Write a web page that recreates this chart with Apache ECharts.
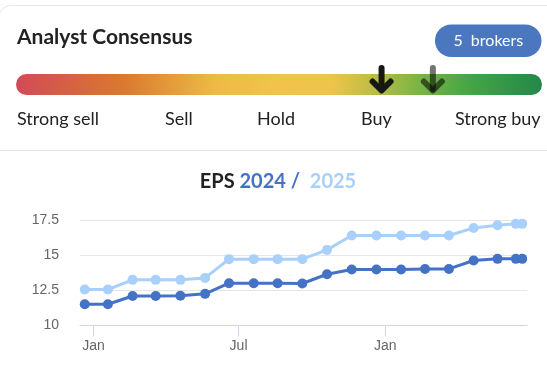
<!DOCTYPE html>
<html>
<head>
<meta charset="utf-8">
<script src="https://cdn.jsdelivr.net/npm/echarts@6/dist/echarts.min.js"></script>
<style>
html,body{margin:0;padding:0;background:#fff;}
#c{width:547px;height:369px;}
</style>
</head>
<body>
<div id="c"></div>
<script>
// ---- data ----
const dates = ['2023-12-21','2024-01-19','2024-02-19','2024-03-19','2024-04-19','2024-05-20','2024-06-19','2024-07-20','2024-08-19','2024-09-19','2024-10-20','2024-11-20','2024-12-21','2025-01-21','2025-02-20','2025-03-22','2025-04-22','2025-05-22','2025-06-14','2025-06-22'];
const eps2024 = [11.52,11.52,12.11,12.11,12.12,12.26,13.02,13.02,13.02,13.0,13.66,14.0,14.0,14.0,14.04,14.04,14.64,14.76,14.76,14.76];
const eps2025 = [12.57,12.57,13.26,13.26,13.26,13.4,14.74,14.74,14.74,14.74,15.4,16.43,16.43,16.43,16.43,16.43,16.97,17.16,17.26,17.26];
const tickDates = ['2024-01-01','2024-07-01','2025-01-01'];
const tickLabels = ['Jan','Jul','Jan'];
const ratingLabels = ['Strong sell','Sell','Hold','Buy','Strong buy'];
const consensusValues = [3.78, 4.17]; // on a 1..5 scale: current, previous
const brokerCount = 5;

// ---- layout ----
const barX = 16, barY = 74, barW = 526, barH = 21;
const ratingLeft = [17, 165, 257, 361, 455];
const ts = s => new Date(s + 'T00:00:00Z').getTime();
const tickTs = tickDates.map(ts);

function arrow(x, color) {
  return {
    type: 'group',
    children: [
      {type: 'line', shape: {x1: x, y1: 68, x2: x, y2: 89},
       style: {stroke: color, lineWidth: 6, lineCap: 'round'}},
      {type: 'polyline', shape: {points: [[x - 9, 81.5], [x, 90.5], [x + 9, 81.5]]},
       style: {stroke: color, lineWidth: 6, lineCap: 'round', lineJoin: 'round', fill: null}}
    ]
  };
}

const graphics = [
  {type: 'rect', shape: {x: -1, y: 5.5, width: 570, height: 420, r: 12},
   style: {fill: '#fff', stroke: '#e6e6e6', lineWidth: 1}, z: -10},
  {type: 'line', shape: {x1: 0, y1: 150.5, x2: 547, y2: 150.5},
   style: {stroke: '#e6e6e6', lineWidth: 1}},
  {type: 'text', x: 17, y: 37,
   style: {text: 'Analyst Consensus', font: 'bold 21px Lato', fill: '#222', verticalAlign: 'middle'}},
  {type: 'rect', shape: {x: 435, y: 24.5, width: 106.5, height: 32.5, r: 16.25},
   style: {fill: '#4a77be'}},
  {type: 'text', x: 488.3, y: 41,
   style: {text: brokerCount + '  brokers', font: '16px Lato', fill: '#fff', align: 'center', verticalAlign: 'middle'}},
  {type: 'rect', shape: {x: barX, y: barY, width: barW, height: barH, r: barH / 2},
   style: {fill: new echarts.graphic.LinearGradient(0, 0, 1, 0, [
     {offset: 0, color: '#d24a57'},
     {offset: 0.2, color: '#d9782f'},
     {offset: 0.38, color: '#edbb45'},
     {offset: 0.5, color: '#f0c44a'},
     {offset: 0.6, color: '#eec44a'},
     {offset: 0.66, color: '#c8bf45'},
     {offset: 0.76, color: '#7fb545'},
     {offset: 0.86, color: '#45a646'},
     {offset: 1, color: '#25874a'}
   ])}}
];
ratingLabels.forEach((t, i) => {
  graphics.push({type: 'text', x: ratingLeft[i], y: 119.5,
    style: {text: t, font: '18px Lato', fill: '#222', verticalAlign: 'middle'}});
});
const arrowColors = ['#181812', 'rgba(0,0,0,0.55)'];
for (let i = consensusValues.length - 1; i >= 0; i--) {
  const x = barX + (consensusValues[i] - 1) / 4 * barW;
  graphics.push(arrow(x, arrowColors[i]));
}
graphics.push({type: 'text', x: 278, y: 182,
  style: {
    text: '{a|EPS} {b|2024 /}  {c|2025}', align: 'center', verticalAlign: 'middle',
    rich: {
      a: {font: 'bold 20px Lato', fill: '#222'},
      b: {font: 'bold 20px Lato', fill: '#4472c4'},
      c: {font: 'bold 20px Lato', fill: '#a8d0fb'}
    },
    font: 'bold 20px Lato'
  }});

const chart = echarts.init(document.getElementById('c'), null, {renderer: 'canvas'});
chart.setOption({
  animation: false,
  grid: {left: 80, right: 20, top: 220.5, bottom: 43.5},
  xAxis: {
    type: 'value',
    min: ts('2023-12-15'),
    max: ts('2025-06-28'),
    axisLine: {show: true, lineStyle: {color: '#ccd6eb', width: 1}},
    axisTick: {show: true, length: 11, lineStyle: {color: '#ccd6eb'}, customValues: tickTs},
    axisLabel: {
      customValues: tickTs,
      margin: 14,
      color: '#666',
      fontSize: 14,
      fontFamily: 'Liberation Sans',
      formatter: v => { const i = tickTs.indexOf(v); return i >= 0 ? tickLabels[i] : ''; }
    },
    splitLine: {show: false}
  },
  yAxis: {
    type: 'value',
    min: 10, max: 17.5, interval: 2.5,
    axisLine: {show: false},
    axisTick: {show: false},
    axisLabel: {color: '#666', fontSize: 14, fontFamily: 'Liberation Sans', margin: 21},
    splitLine: {lineStyle: {color: '#e6e6e6', width: 1}}
  },
  series: [
    {name: '2025', type: 'line', data: dates.map((d, i) => [ts(d), eps2025[i]]),
     symbol: 'circle', symbolSize: 10, lineStyle: {width: 3, color: '#a8d0fb'},
     itemStyle: {color: '#a8d0fb'}},
    {name: '2024', type: 'line', data: dates.map((d, i) => [ts(d), eps2024[i]]),
     symbol: 'circle', symbolSize: 10, lineStyle: {width: 3, color: '#4472c4'},
     itemStyle: {color: '#4472c4'}}
  ],
  graphic: graphics
});
</script>
</body>
</html>
